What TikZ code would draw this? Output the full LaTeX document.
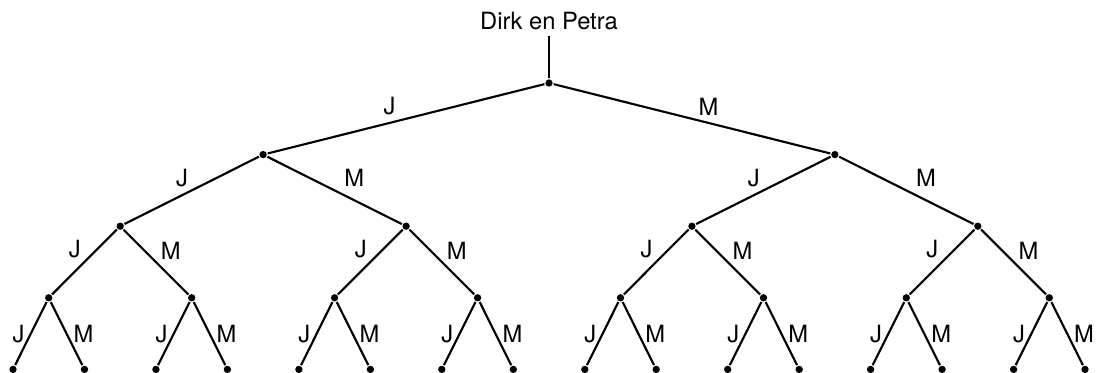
\documentclass[tikz,border=0pt]{standalone}
\usepackage{fontspec}
\setmainfont{TeX Gyre Heros}
\usetikzlibrary{positioning}
\begin{document}
\begin{tikzpicture}[x=0.75pt,y=-0.75pt,line width=1.6pt,
  font=\fontsize{17.8}{20}\selectfont,
  dot/.style={shape=circle,fill,inner sep=0pt,minimum size=5.5pt},
  lbl/.style={inner sep=2pt}]
\useasboundingbox (0,0) rectangle (1096,372);

\node(r)  at (549,83)    [dot] {};
\node(top) [above=32pt of r, inner sep=3.5pt] {Dirk en Petra};

\node(J)  at (263.1,154.6) [dot] {};
\node(M)  at (834.9,154.6) [dot] {};

\node(JJ) at (120.2,226.2) [dot] {};
\node(JM) at (406.1,226.2) [dot] {};
\node(MJ) at (691.9,226.2) [dot] {};
\node(MM) at (977.8,226.2) [dot] {};

\node(JJJ) at (48.7,297.8)   [dot] {};
\node(JJM) at (191.7,297.8)  [dot] {};
\node(JMJ) at (334.6,297.8)  [dot] {};
\node(JMM) at (477.6,297.8)  [dot] {};
\node(MJJ) at (620.5,297.8)  [dot] {};
\node(MJM) at (763.5,297.8)  [dot] {};
\node(MMJ) at (906.3,297.8)  [dot] {};
\node(MMM) at (1049.3,297.8) [dot] {};

\node(JJJJ) at (13,369.4)     [dot] {};
\node(JJJM) at (84.5,369.4)   [dot] {};
\node(JJMJ) at (155.9,369.4)  [dot] {};
\node(JJMM) at (227.4,369.4)  [dot] {};
\node(JMJJ) at (298.9,369.4)  [dot] {};
\node(JMJM) at (370.4,369.4)  [dot] {};
\node(JMMJ) at (441.8,369.4)  [dot] {};
\node(JMMM) at (513.3,369.4)  [dot] {};
\node(MJJJ) at (584.8,369.4)  [dot] {};
\node(MJJM) at (656.2,369.4)  [dot] {};
\node(MJMJ) at (727.7,369.4)  [dot] {};
\node(MJMM) at (799.2,369.4)  [dot] {};
\node(MMJJ) at (870.6,369.4)  [dot] {};
\node(MMJM) at (942.1,369.4)  [dot] {};
\node(MMMJ) at (1013.6,369.4) [dot] {};
\node(MMMM) at (1085,369.4)   [dot] {};

\draw (top) -- (r);

\path [draw]
  (r)      edge     node [lbl,pos=0.56,above=3pt]        {J}     (J)
  (r)      edge     node [lbl,pos=0.56,above=3pt]        {M}     (M)
  (J)      edge     node [lbl,pos=0.5,above left]        {J}     (JJ)
  (J)      edge     node [lbl,pos=0.53,above right=2pt]  {M}     (JM)
  (M)      edge     node [lbl,pos=0.5,above left]        {J}     (MJ)
  (M)      edge     node [lbl,pos=0.53,above right=2pt]  {M}     (MM);

\path [draw]
  (JJ)     edge     node [lbl,pos=0.5,above left]        {J}     (JJJ)
  (JJ)     edge     node [lbl,pos=0.52,above right]      {M}     (JJM)
  (JM)     edge     node [lbl,pos=0.5,above left]        {J}     (JMJ)
  (JM)     edge     node [lbl,pos=0.52,above right]      {M}     (JMM)
  (MJ)     edge     node [lbl,pos=0.5,above left]        {J}     (MJJ)
  (MJ)     edge     node [lbl,pos=0.52,above right]      {M}     (MJM)
  (MM)     edge     node [lbl,pos=0.5,above left]        {J}     (MMJ)
  (MM)     edge     node [lbl,pos=0.52,above right]      {M}     (MMM);

\path [draw]
  (JJJ)    edge     node [lbl,pos=0.5,left=2pt]          {J}     (JJJJ)
  (JJJ)    edge     node [lbl,pos=0.5,right=2.5pt]       {M}     (JJJM)
  (JJM)    edge     node [lbl,pos=0.5,left=2pt]          {J}     (JJMJ)
  (JJM)    edge     node [lbl,pos=0.5,right=2.5pt]       {M}     (JJMM)
  (JMJ)    edge     node [lbl,pos=0.5,left=2pt]          {J}     (JMJJ)
  (JMJ)    edge     node [lbl,pos=0.5,right=2.5pt]       {M}     (JMJM)
  (JMM)    edge     node [lbl,pos=0.5,left=2pt]          {J}     (JMMJ)
  (JMM)    edge     node [lbl,pos=0.5,right=2.5pt]       {M}     (JMMM)
  (MJJ)    edge     node [lbl,pos=0.5,left=2pt]          {J}     (MJJJ)
  (MJJ)    edge     node [lbl,pos=0.5,right=2.5pt]       {M}     (MJJM)
  (MJM)    edge     node [lbl,pos=0.5,left=2pt]          {J}     (MJMJ)
  (MJM)    edge     node [lbl,pos=0.5,right=2.5pt]       {M}     (MJMM)
  (MMJ)    edge     node [lbl,pos=0.5,left=2pt]          {J}     (MMJJ)
  (MMJ)    edge     node [lbl,pos=0.5,right=2.5pt]       {M}     (MMJM)
  (MMM)    edge     node [lbl,pos=0.5,left=2pt]          {J}     (MMMJ)
  (MMM)    edge     node [lbl,pos=0.5,right=2.5pt]       {M}     (MMMM);

\end{tikzpicture}
\end{document}
